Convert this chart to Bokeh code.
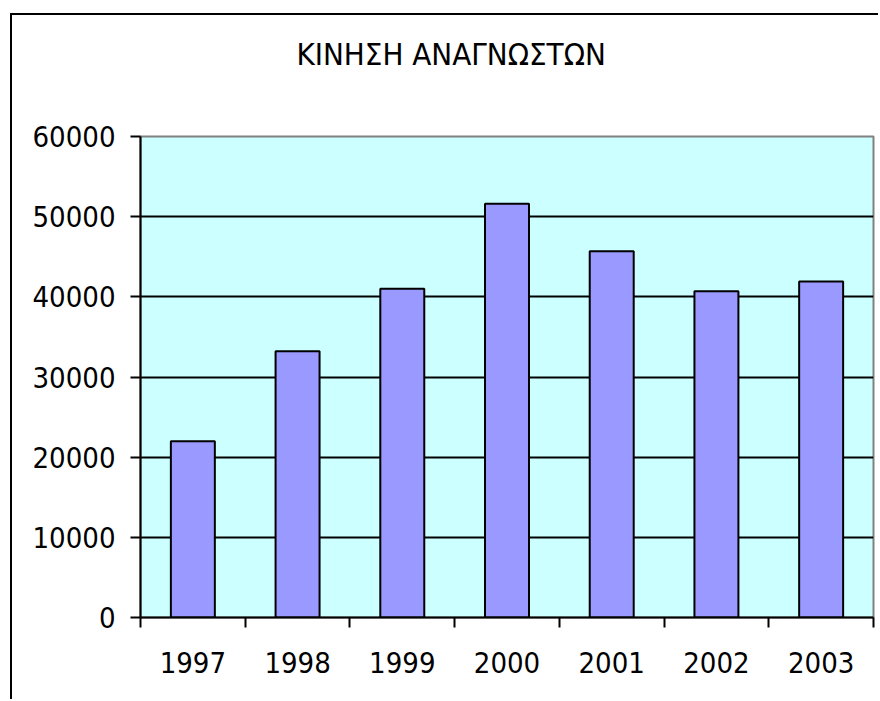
from bokeh.plotting import figure
from bokeh.models import Range1d, FixedTicker, Title
from bokeh.embed import file_html
from bokeh.resources import INLINE

# ---- data ----
years = ["1997", "1998", "1999", "2000", "2001", "2002", "2003"]
readers = [22000, 33200, 41000, 51600, 45700, 40700, 41900]
y_ticks = [0, 10000, 20000, 30000, 40000, 50000, 60000]
title_text = "ΚΙΝΗΣΗ ΑΝΑΓΝΩΣΤΩΝ"

FONT = "'DejaVu Sans Condensed', 'Liberation Sans', sans-serif"
FS = "29px"

n = len(years)
x_pos = [i + 0.5 for i in range(n)]

p = figure(width=868, height=686,
           x_range=Range1d(0, n), y_range=Range1d(0, 60000),
           output_backend="svg", toolbar_location=None,
           min_border_left=128, min_border_right=7,
           min_border_top=121, min_border_bottom=84)
p.title = None
p.styles = {"margin-left": "10px", "margin-top": "13px",
            "border-left": "2px solid black", "border-top": "2px solid black"}

p.background_fill_color = "#CCFFFF"
p.border_fill_color = "white"
p.outline_line_color = "#808080"
p.outline_line_width = 2

# spacer panel between frame and title, then the title itself
spacer = Title(text=" ", standoff=35, text_font_size="10px")
p.add_layout(spacer, "above")
main_title = Title(text=title_text, align="left", offset=156, standoff=34,
                   text_font=FONT, text_font_size="31px",
                   text_font_style="normal", text_color="black")
p.add_layout(main_title, "above")

# bars
p.vbar(x=x_pos, top=readers, width=0.42, fill_color="#9999FF",
       line_color="black", line_width=2)

# grid
p.xgrid.visible = False
p.ygrid.ticker = FixedTicker(ticks=y_ticks)
p.ygrid.grid_line_color = "black"
p.ygrid.grid_line_width = 2

# y axis
ya = p.yaxis[0]
ya.ticker = FixedTicker(ticks=y_ticks)
ya.axis_line_color = "black"
ya.axis_line_width = 2
ya.major_tick_out = 10
ya.major_tick_in = 0
ya.major_tick_line_width = 2
ya.minor_tick_line_color = None
ya.major_label_standoff = 15
ya.major_label_text_font = FONT
ya.major_label_text_font_size = FS
ya.major_label_text_color = "black"

# x axis
xa = p.xaxis[0]
xa.ticker = FixedTicker(ticks=x_pos, minor_ticks=list(range(n + 1)))
xa.major_label_overrides = {x: y for x, y in zip(x_pos, years)}
xa.axis_line_color = "black"
xa.axis_line_width = 2
xa.major_tick_line_color = None
xa.minor_tick_line_color = "black"
xa.minor_tick_line_width = 2
xa.minor_tick_out = 10
xa.minor_tick_in = 0
xa.major_label_standoff = 24
xa.major_label_text_font = FONT
xa.major_label_text_font_size = FS
xa.major_label_text_color = "black"

open("out.html", "w").write(file_html(p, INLINE))
